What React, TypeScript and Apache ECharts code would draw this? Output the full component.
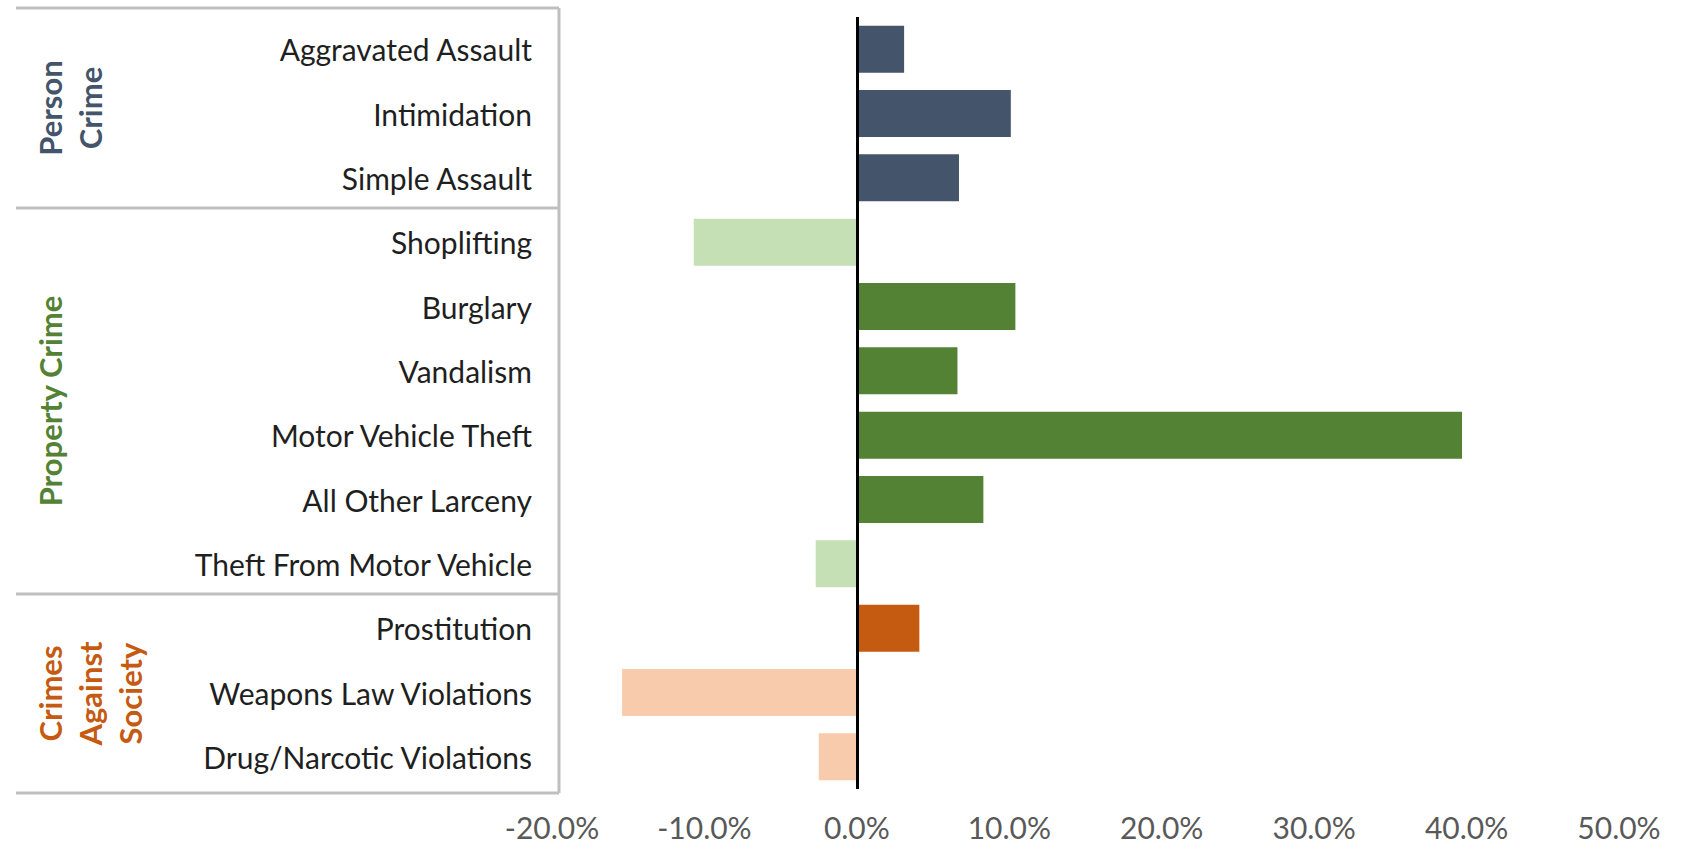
import React, { useEffect, useRef } from "react";
import * as echarts from "echarts";

const categories = [
  "Aggravated Assault",
  "Intimidation",
  "Simple Assault",
  "Shoplifting",
  "Burglary",
  "Vandalism",
  "Motor Vehicle Theft",
  "All Other Larceny",
  "Theft From Motor Vehicle",
  "Prostitution",
  "Weapons Law Violations",
  "Drug/Narcotic Violations",
];
const values = [3.1, 10.1, 6.7, -10.7, 10.4, 6.6, 39.7, 8.3, -2.7, 4.1, -15.4, -2.5];
const groupIndex = [0, 0, 0, 1, 1, 1, 1, 1, 1, 2, 2, 2];
const groupNames = ["Person\nCrime", "Property Crime", "Crimes\nAgainst\nSociety"];
const groupPositiveColors = ["#44546A", "#548235", "#C55A11"];
const groupNegativeColors = ["#44546A", "#C5E0B4", "#F8CBAD"];
const groupLabelColors = ["#44546A", "#548235", "#C55A11"];
const xTicks = { min: -20, max: 50, interval: 10 };

const W = 1691;
const H = 845;
const GRID_TOP = 17;
const GRID_BOTTOM = 56;
const GRID_LEFT = 552;
const GRID_RIGHT = 72;
const FONT = "Lato, 'Open Sans', sans-serif";

export default function App() {
  const ref = useRef<HTMLDivElement>(null);
  useEffect(() => {
    document.body.style.margin = "0";
    if (!ref.current) return;
    const chart = echarts.init(ref.current, undefined, { renderer: "svg" });

    const band = (H - GRID_TOP - GRID_BOTTOM) / categories.length;
    const counts: number[] = [];
    groupIndex.forEach((g) => (counts[g] = (counts[g] || 0) + 1));
    const lineYs: number[] = [GRID_TOP - 9];
    let cum = 0;
    counts.forEach((c, i) => {
      cum += c;
      if (i < counts.length - 1) lineYs.push(GRID_TOP + cum * band - 2);
    });
    lineYs.push(H - GRID_BOTTOM + 4);

    const boxLeft = 16;
    const boxRight = 559;
    const lineStyle = { stroke: "#BFBFBF", lineWidth: 3 };
    const graphics: any[] = [];
    lineYs.forEach((y) => {
      graphics.push({
        type: "line",
        shape: { x1: boxLeft, y1: y, x2: boxRight, y2: y },
        style: lineStyle,
        silent: true,
      });
    });
    graphics.push({
      type: "line",
      shape: { x1: boxRight, y1: lineYs[0], x2: boxRight, y2: lineYs[lineYs.length - 1] },
      style: lineStyle,
      silent: true,
    });
    groupNames.forEach((name, i) => {
      const yc = (lineYs[i] + lineYs[i + 1]) / 2;
      graphics.push({
        type: "text",
        x: 30,
        y: yc,
        rotation: Math.PI / 2,
        silent: true,
        style: {
          text: name,
          fill: groupLabelColors[i],
          font: `bold 31px ${FONT}`,
          textAlign: "center",
          textVerticalAlign: "top",
          align: "center",
          verticalAlign: "top",
          lineHeight: 40,
        },
      });
    });

    chart.setOption({
      animation: false,
      backgroundColor: "#ffffff",
      grid: { top: GRID_TOP, bottom: GRID_BOTTOM, left: GRID_LEFT, right: GRID_RIGHT, containLabel: false },
      xAxis: {
        type: "value",
        min: xTicks.min,
        max: xTicks.max,
        interval: xTicks.interval,
        axisLine: { show: false },
        axisTick: { show: false },
        splitLine: { show: false },
        axisLabel: {
          formatter: (v: number) => `${v.toFixed(1)}%`,
          color: "#595959",
          fontSize: 30,
          lineHeight: 32,
          fontFamily: FONT,
          margin: 22,
        },
      },
      yAxis: {
        type: "category",
        inverse: true,
        data: categories,
        axisLine: { show: false },
        axisTick: { show: false },
        axisLabel: {
          color: "#1F1F1F",
          fontSize: 30,
          fontFamily: FONT,
          margin: 20,
        },
      },
      series: [
        {
          type: "bar",
          barCategoryGap: "27%",
          data: values.map((v, i) => ({
            value: v,
            itemStyle: {
              color: v >= 0 ? groupPositiveColors[groupIndex[i]] : groupNegativeColors[groupIndex[i]],
            },
          })),
          markLine: {
            silent: true,
            symbol: ["none", "none"],
            label: { show: false },
            lineStyle: { color: "#000000", width: 3, type: "solid" },
            data: [{ xAxis: 0 }],
          },
        },
      ],
      graphic: graphics,
    });
    return () => chart.dispose();
  }, []);
  return <div ref={ref} style={{ width: W, height: H }} />;
}
